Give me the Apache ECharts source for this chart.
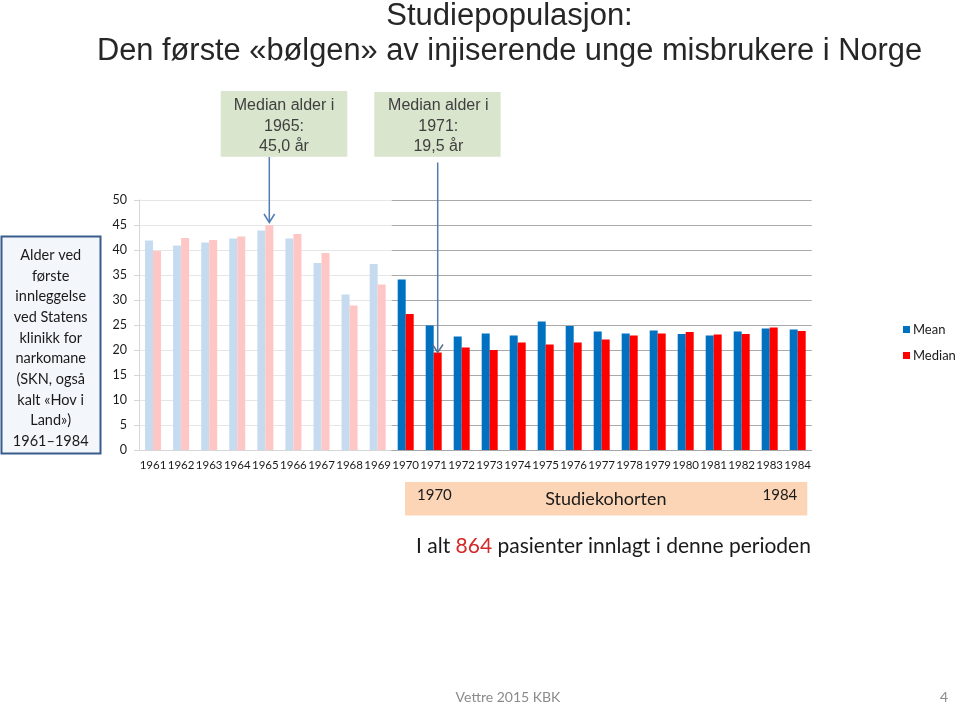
<!DOCTYPE html>
<html>
<head>
<meta charset="utf-8">
<script src="https://cdn.jsdelivr.net/npm/echarts@6/dist/echarts.min.js"></script>
<style>html,body{margin:0;padding:0;background:#fff}#c{width:960px;height:704px}</style>
</head>
<body>
<div id="c"></div>
<script>
const years = ['1961','1962','1963','1964','1965','1966','1967','1968','1969','1970','1971','1972','1973','1974','1975','1976','1977','1978','1979','1980','1981','1982','1983','1984'];
const meanAge = [41.9, 40.9, 41.5, 42.3, 43.9, 42.3, 37.4, 31.1, 37.2, 34.1, 24.9, 22.7, 23.3, 22.9, 25.7, 24.8, 23.7, 23.3, 23.9, 23.2, 22.9, 23.7, 24.3, 24.1];
const medianAge = [39.8, 42.4, 42.0, 42.7, 45.0, 43.2, 39.4, 28.9, 33.1, 27.2, 19.5, 20.5, 20.0, 21.5, 21.1, 21.5, 22.1, 22.9, 23.3, 23.6, 23.1, 23.2, 24.5, 23.8];
const yTicks = {min: 0, max: 50, interval: 5};
const splitAt = 9; // 1961–1969 faded, 1970–1984 study cohort

const chart = echarts.init(document.getElementById('c'), null, {renderer: 'canvas'});
const calibri = 'Lato, "Open Sans", sans-serif';
const arial = '"Liberation Sans", Arial, sans-serif';
const arrowColor = '#4f7db3';

const option = {
  backgroundColor: '#ffffff',
  animation: false,
  grid: [
    {left: 139, top: 200, width: 252.7, height: 250},
    {left: 391.7, top: 200, width: 420, height: 250}
  ],
  xAxis: [
    {type: 'category', gridIndex: 0, data: years.slice(0, splitAt),
     axisLine: {lineStyle: {color: '#d6d6d6'}},
     axisTick: {lineStyle: {color: '#d6d6d6'}, length: 5},
     axisLabel: {color: '#1a1a1a', fontSize: 11.5, fontFamily: calibri, margin: 9, interval: 0}},
    {type: 'category', gridIndex: 1, data: years.slice(splitAt),
     axisLine: {lineStyle: {color: '#a6a6a6'}},
     axisTick: {lineStyle: {color: '#a6a6a6'}, length: 5},
     axisLabel: {color: '#1a1a1a', fontSize: 11.5, fontFamily: calibri, margin: 9, interval: 0}}
  ],
  yAxis: [
    {type: 'value', gridIndex: 0, min: yTicks.min, max: yTicks.max, interval: yTicks.interval,
     axisLine: {show: true, lineStyle: {color: '#d6d6d6'}},
     axisTick: {show: true, lineStyle: {color: '#d6d6d6'}, length: 5},
     axisLabel: {color: '#1a1a1a', fontSize: 12.5, fontFamily: calibri, margin: 12},
     splitLine: {lineStyle: {color: '#e6e6e6'}}},
    {type: 'value', gridIndex: 1, min: yTicks.min, max: yTicks.max, interval: yTicks.interval,
     axisLine: {show: false}, axisTick: {show: false}, axisLabel: {show: false},
     splitLine: {lineStyle: {color: '#a9a9a9'}}}
  ],
  legend: {
    orient: 'vertical', left: 898, top: 318, itemWidth: 7, itemHeight: 7, itemGap: 13,
    icon: 'rect', data: ['Mean', 'Median'],
    textStyle: {fontFamily: calibri, fontSize: 13, color: '#1a1a1a', padding: [0, 0, 0, -2]}
  },
  series: [
    {name: 'Mean (1961–1969)', type: 'bar', xAxisIndex: 0, yAxisIndex: 0, barWidth: 8, barGap: '0%',
     itemStyle: {color: '#c6dbef'}, data: meanAge.slice(0, splitAt)},
    {name: 'Median (1961–1969)', type: 'bar', xAxisIndex: 0, yAxisIndex: 0, barWidth: 8, barGap: '0%',
     itemStyle: {color: '#ffc6c6'}, data: medianAge.slice(0, splitAt)},
    {name: 'Mean', type: 'bar', xAxisIndex: 1, yAxisIndex: 1, barWidth: 8, barGap: '0%',
     itemStyle: {color: '#0070c0'}, data: meanAge.slice(splitAt)},
    {name: 'Median', type: 'bar', xAxisIndex: 1, yAxisIndex: 1, barWidth: 8, barGap: '0%',
     itemStyle: {color: '#ff0000'}, data: medianAge.slice(splitAt)}
  ],
  graphic: [
    {type: 'text', x: 509.5, y: 16, style: {text: 'Studiepopulasjon:', align: 'center', verticalAlign: 'middle', font: '31px ' + arial, fill: '#262626'}},
    {type: 'text', x: 509.5, y: 52, style: {text: 'Den første «bølgen» av injiserende unge misbrukere i Norge', align: 'center', verticalAlign: 'middle', font: '30.8px ' + arial, fill: '#262626'}},

    {type: 'rect', shape: {x: 220.7, y: 91, width: 126.6, height: 65.7}, style: {fill: '#d9e5cc'}},
    {type: 'text', x: 284, y: 126.5, style: {text: 'Median alder i\n1965:\n45,0 år', align: 'center', verticalAlign: 'middle', font: '16px ' + arial, lineHeight: 20.5, fill: '#404040'}},
    {type: 'rect', shape: {x: 374.3, y: 92, width: 126.3, height: 64.7}, style: {fill: '#d9e5cc'}},
    {type: 'text', x: 438.3, y: 126.5, style: {text: 'Median alder i\n1971:\n19,5 år', align: 'center', verticalAlign: 'middle', font: '16px ' + arial, lineHeight: 20.5, fill: '#404040'}},

    {type: 'line', shape: {x1: 269.3, y1: 157, x2: 269.3, y2: 222}, style: {stroke: arrowColor, lineWidth: 1.5}, z: 100},
    {type: 'polyline', shape: {points: [[264, 214], [269.3, 222.5], [274.6, 214]]}, style: {stroke: arrowColor, lineWidth: 1.5, fill: null}, z: 100},
    {type: 'line', shape: {x1: 437.7, y1: 162.5, x2: 437.7, y2: 352}, style: {stroke: arrowColor, lineWidth: 1.5}, z: 100},
    {type: 'polyline', shape: {points: [[432.5, 344.5], [437.7, 352.5], [443, 344.5]]}, style: {stroke: '#5a6f8a', lineWidth: 1.5, fill: null}, z: 100},

    {type: 'rect', shape: {x: 1.5, y: 236.5, width: 99, height: 217}, style: {fill: '#f3f6fb', stroke: '#385d8a', lineWidth: 2}},
    {type: 'text', x: 50.7, y: 348.3, style: {text: 'Alder ved\nførste\ninnleggelse\nved Statens\nklinikk for\nnarkomane\n(SKN, også\nkalt «Hov i\nLand»)\n1961–1984', align: 'center', verticalAlign: 'middle', font: '14.5px ' + calibri, lineHeight: 20.7, fill: '#1a1a1a'}},

    {type: 'rect', shape: {x: 405, y: 482, width: 402.3, height: 33.5}, style: {fill: '#fbd5b6'}},
    {type: 'text', x: 417, y: 495, style: {text: '1970', align: 'left', verticalAlign: 'middle', font: '15px ' + calibri, fill: '#1a1a1a'}},
    {type: 'text', x: 605.8, y: 499.3, style: {text: 'Studiekohorten', align: 'center', verticalAlign: 'middle', font: '18px ' + calibri, fill: '#1a1a1a'}},
    {type: 'text', x: 797.3, y: 495, style: {text: '1984', align: 'right', verticalAlign: 'middle', font: '15px ' + calibri, fill: '#1a1a1a'}},

    {type: 'text', x: 416, y: 546.7, style: {text: '{a|I alt }{r|864}{a| pasienter innlagt i denne perioden}', align: 'left', verticalAlign: 'middle',
      rich: {a: {font: '21px ' + calibri, fill: '#1a1a1a'}, r: {font: '21px ' + calibri, fill: '#d42a2a'}}}},

    {type: 'text', x: 508, y: 697, style: {text: 'Vettre 2015 KBK', align: 'center', verticalAlign: 'middle', font: '14px ' + calibri, fill: '#8b8b8b'}},
    {type: 'text', x: 944, y: 697, style: {text: '4', align: 'center', verticalAlign: 'middle', font: '14px ' + calibri, fill: '#8b8b8b'}}
  ]
};
chart.setOption(option);
</script>
</body>
</html>
